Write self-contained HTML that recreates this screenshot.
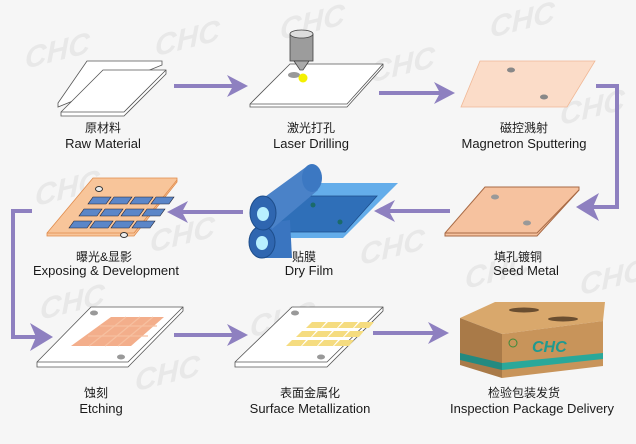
<!DOCTYPE html>
<html><head><meta charset="utf-8"><style>
html,body{margin:0;padding:0;background:#f6f6f6;overflow:hidden;width:636px;height:444px}
svg{display:block}
text{font-family:"Liberation Sans","Noto Sans CJK SC",sans-serif;fill:#1a1a1a}
.cn{font-size:12px}.en{font-size:13px}
.wm{font-family:"Liberation Sans",sans-serif;font-weight:bold;font-style:italic;font-size:30px;fill:#e8e8e8}
</style></head><body>
<svg width="636" height="444" viewBox="0 0 636 444" xmlns="http://www.w3.org/2000/svg">
<rect width="636" height="444" fill="#f6f6f6"/>
<!-- watermarks -->
<g transform="skewY(-14)">
<text class="wm" x="25" y="75">CHC</text>
<text class="wm" x="155" y="95">CHC</text>
<text class="wm" x="280" y="110">CHC</text>
<text class="wm" x="490" y="160">CHC</text>
<text class="wm" x="370" y="175">CHC</text>
<text class="wm" x="35" y="215">CHC</text>
<text class="wm" x="150" y="290">CHC</text>
<text class="wm" x="560" y="265">CHC</text>
<text class="wm" x="360" y="355">CHC</text>
<text class="wm" x="40" y="330">CHC</text>
<text class="wm" x="135" y="425">CHC</text>
<text class="wm" x="250" y="400">CHC</text>
<text class="wm" x="465" y="405">CHC</text>
<text class="wm" x="580" y="440">CHC</text>
</g>

<!-- connectors -->
<g stroke="#8e80c0" stroke-width="4" fill="none">
<line x1="174" y1="86" x2="235" y2="86"/>
<line x1="379" y1="93" x2="442" y2="93"/>
<polyline points="596,86 617,86 617,207 588,207"/>
<line x1="450" y1="211" x2="387" y2="211"/>
<line x1="243" y1="212" x2="180" y2="212"/>
<polyline points="32,211 13,211 13,337 40,337"/>
<line x1="174" y1="335" x2="235" y2="335"/>
<line x1="373" y1="333" x2="436" y2="333"/>
</g>
<g fill="#8e80c0">
<polygon points="248,86 227,75 233,86 227,97"/>
<polygon points="455,93 434,82 440,93 434,104"/>
<polygon points="576,207 599,193 593,207 599,221"/>
<polygon points="374,211 395,200 389,211 395,222"/>
<polygon points="167,212 188,201 182,212 188,223"/>
<polygon points="53,337 30,323 36,337 30,351"/>
<polygon points="248,335 227,324 233,335 227,346"/>
<polygon points="449,333 428,322 434,333 428,344"/>
</g>

<!-- raw material -->
<polygon points="87,61 162,61 162,65 58,107 58,103" fill="#fff" stroke="#555" stroke-width="0.8"/>
<polygon points="103,70 166,70 166,74 124,116 61,116 61,112" fill="#fff" stroke="#555" stroke-width="0.8"/>
<polyline points="61,112 124,112 166,70" fill="none" stroke="#555" stroke-width="0.8"/>

<!-- laser drilling -->
<polygon points="290,64 383,64 383,67 347,107 250,107 250,104" fill="#fff" stroke="#555" stroke-width="0.8"/>
<polyline points="250,104 347,104 383,64" fill="none" stroke="#555" stroke-width="0.8"/>
<ellipse cx="294" cy="75" rx="6" ry="3" fill="#999"/>
<rect x="290" y="34" width="23" height="27" fill="#9c9c9c" stroke="#444" stroke-width="0.8"/>
<ellipse cx="301.5" cy="34" rx="11.5" ry="4" fill="#ddd" stroke="#444" stroke-width="0.8"/>
<polygon points="294,61 309,61 303,70 300,70" fill="#aaa" stroke="#444" stroke-width="0.8"/>
<circle cx="303" cy="78" r="4.5" fill="#f4f000"/>

<!-- magnetron -->
<polygon points="480,61 595,61 567,107 461,107" fill="#fbdcc8" stroke="#f0b896" stroke-width="0.8"/>
<ellipse cx="511" cy="70" rx="4" ry="2.5" fill="#888"/>
<ellipse cx="544" cy="97" rx="4" ry="2.5" fill="#888"/>

<!-- seed metal -->
<polygon points="485,187 579,187 579,190 537,236 445,236 445,233" fill="#f6c29f" stroke="#a86a45" stroke-width="1"/>
<polyline points="445,233 537,233 579,190" fill="none" stroke="#a86a45" stroke-width="1"/>
<ellipse cx="495" cy="197" rx="4" ry="2.5" fill="#999"/>
<ellipse cx="527" cy="223" rx="4" ry="2.5" fill="#999"/>

<!-- dry film -->
<polygon points="284,183 398,183 343,238 260,238" fill="#4aa0e8" opacity="0.85"/>
<polygon points="300,196 377,196 345,232 270,232" fill="#2f6fb8" stroke="#1d4d8a" stroke-width="0.8"/>
<circle cx="313" cy="205" r="2.5" fill="#1a6a6a"/>
<circle cx="340" cy="222" r="2.5" fill="#1a6a6a"/>
<g>
<polygon points="255,225 290,220 292,258 258,258" fill="#3a75c0"/>
<ellipse cx="262" cy="242" rx="13" ry="16" fill="#2f66b0" stroke="#1d4d8a"/>
<ellipse cx="262" cy="243" rx="6" ry="7" fill="#b8f0ff"/>
<polygon points="262,199 306,167 318,190 272,229" fill="#4a82c8"/>
<ellipse cx="312" cy="178" rx="10" ry="14" fill="#3c78c2"/>
<ellipse cx="263" cy="213" rx="13" ry="17" fill="#2f66b0" stroke="#1d4d8a"/>
<ellipse cx="263" cy="214" rx="6" ry="7" fill="#b8f0ff"/>
</g>

<!-- exposing -->
<polygon points="93,178 177,178 177,182 134,236 47,236 47,233" fill="#f8c59a" stroke="#e08a4a" stroke-width="0.8"/>
<polyline points="47,233 134,233 177,180" fill="none" stroke="#e08a4a" stroke-width="0.8"/>
<g fill="#5b86c8" stroke="#223" stroke-width="0.6">
<polygon points="93,197 111,197 106,204 88,204"/><polygon points="114,197 132,197 127,204 109,204"/><polygon points="135,197 153,197 148,204 130,204"/><polygon points="156,197 174,197 169,204 151,204"/>
<polygon points="84,209 102,209 97,216 79,216"/><polygon points="105,209 123,209 118,216 100,216"/><polygon points="126,209 144,209 139,216 121,216"/><polygon points="147,209 165,209 160,216 142,216"/>
<polygon points="74,221 92,221 87,228 69,228"/><polygon points="95,221 113,221 108,228 90,228"/><polygon points="116,221 134,221 129,228 111,228"/><polygon points="137,221 155,221 150,228 132,228"/>
</g>
<ellipse cx="99" cy="189" rx="3.5" ry="2.5" fill="#eee" stroke="#333"/>
<ellipse cx="124" cy="235" rx="3.5" ry="2.5" fill="#eee" stroke="#333"/>

<!-- etching -->
<polygon points="91,307 183,307 183,311 128,367 37,367 37,362" fill="#fff" stroke="#555" stroke-width="0.8"/>
<polyline points="37,362 128,362 183,307" fill="none" stroke="#555" stroke-width="0.8"/>
<polygon points="111,317 164,317 131,346 71,346" fill="#f2a57e" opacity="0.9"/>
<g stroke="#f6c0a0" stroke-width="1.2"><line x1="100" y1="326" x2="157" y2="326"/><line x1="88" y1="336" x2="148" y2="336"/><line x1="126" y1="317" x2="89" y2="346"/><line x1="140" y1="317" x2="105" y2="346"/><line x1="153" y1="317" x2="118" y2="346"/></g>
<ellipse cx="94" cy="313" rx="4" ry="2.5" fill="#999"/>
<ellipse cx="121" cy="357" rx="4" ry="2.5" fill="#999"/>

<!-- surface metallization -->
<polygon points="292,307 383,307 383,311 327,367 235,367 235,362" fill="#fff" stroke="#555" stroke-width="0.8"/>
<polyline points="235,362 327,362 383,307" fill="none" stroke="#555" stroke-width="0.8"/>
<g fill="#f5dc80">
<polygon points="312,322 326,322 321,328 306,328"/><polygon points="328,322 342,322 337,328 322,328"/><polygon points="344,322 358,322 353,328 338,328"/><polygon points="360,322 374,322 369,328 354,328"/>
<polygon points="302,331 316,331 311,337 296,337"/><polygon points="318,331 332,331 327,337 312,337"/><polygon points="334,331 348,331 343,337 328,337"/><polygon points="350,331 364,331 359,337 344,337"/>
<polygon points="292,340 306,340 301,346 286,346"/><polygon points="308,340 322,340 317,346 302,346"/><polygon points="324,340 338,340 333,346 318,346"/><polygon points="340,340 354,340 349,346 334,346"/>
</g>
<ellipse cx="295" cy="313" rx="4" ry="2.5" fill="#999"/>
<ellipse cx="321" cy="357" rx="4" ry="2.5" fill="#999"/>

<!-- box -->
<polygon points="460,318 495,302 605,302 603,321 502,334" fill="#d9a86c"/>
<polygon points="460,318 502,334 502,378 460,365" fill="#a97a48"/>
<polygon points="502,334 603,321 603,366 502,378" fill="#c8945a"/>
<polygon points="502,363 603,353 603,359 502,370" fill="#2aa89a"/>
<polygon points="460,353 502,363 502,370 460,360" fill="#238a80"/>
<ellipse cx="524" cy="310" rx="15" ry="2.5" fill="#6a4e30"/>
<ellipse cx="563" cy="319" rx="15" ry="2.5" fill="#6a4e30"/>
<text x="532" y="352" style="font-family:'Liberation Sans',sans-serif;font-weight:bold;font-style:italic;font-size:16px;fill:#1e9a90">CHC</text>
<circle cx="513" cy="343" r="4" fill="none" stroke="#3a8a3a"/>

<!-- labels -->
<g text-anchor="middle">
<text class="cn" x="103" y="132">原材料</text><text class="en" x="103" y="148">Raw Material</text>
<text class="cn" x="311" y="132">激光打孔</text><text class="en" x="311" y="148">Laser Drilling</text>
<text class="cn" x="524" y="132">磁控溅射</text><text class="en" x="524" y="148">Magnetron Sputtering</text>
<text class="cn" x="104" y="261">曝光&amp;显影</text><text class="en" x="106" y="275">Exposing &amp; Development</text>
<text class="cn" x="304" y="261">贴膜</text><text class="en" x="309" y="275">Dry Film</text>
<text class="cn" x="518" y="261">填孔镀铜</text><text class="en" x="526" y="275">Seed Metal</text>
<text class="cn" x="96" y="397">蚀刻</text><text class="en" x="101" y="413">Etching</text>
<text class="cn" x="310" y="397">表面金属化</text><text class="en" x="310" y="413">Surface  Metallization</text>
<text class="cn" x="524" y="397">检验包装发货</text><text class="en" x="532" y="413">Inspection Package Delivery</text>
</g>
</svg>
</body></html>
